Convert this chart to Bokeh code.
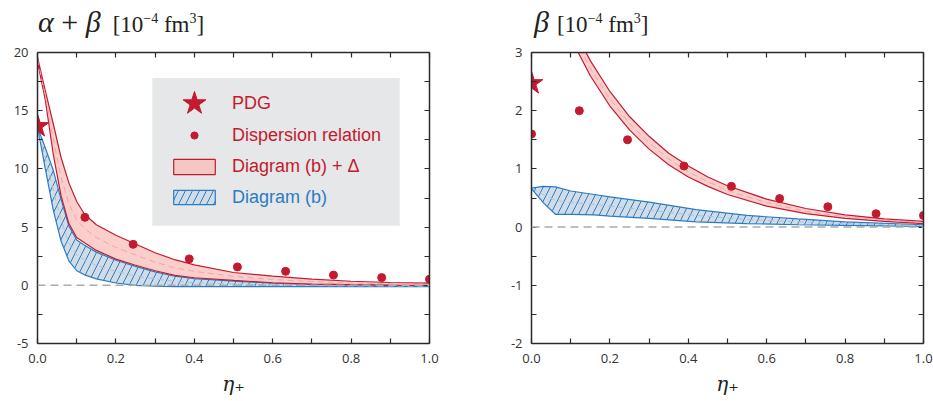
from bokeh.plotting import figure
from bokeh.layouts import row, column
from bokeh.models import (LinearAxis, FixedTicker, Span, Legend, LegendItem, Div,
                          Range1d, NumeralTickFormatter, BoxAnnotation)
from bokeh.embed import file_html
from bokeh.resources import INLINE

# ---------------- data ----------------
x_ticks = [0.0, 0.2, 0.4, 0.6, 0.8, 1.0]
x_minor = [0.1, 0.3, 0.5, 0.7, 0.9]
ab_ticks = [-5, 0, 5, 10, 15, 20]
ab_minor = [-2.5, 2.5, 7.5, 12.5, 17.5]
b_ticks = [-2, -1, 0, 1, 2, 3]
b_minor = [-1.5, -0.5, 0.5, 1.5, 2.5]

pdg_x = [0.0]
ab_pdg = [13.66]
b_pdg = [2.47]

ab_disp_x = [0.121, 0.244, 0.387, 0.51, 0.633, 0.755, 0.878, 1.0]
ab_disp = [5.84, 3.52, 2.27, 1.58, 1.2, 0.88, 0.66, 0.52]
b_disp_x = [0.0, 0.122, 0.245, 0.389, 0.51, 0.633, 0.756, 0.879, 1.0]
b_disp = [1.60, 2.0, 1.50, 1.05, 0.70, 0.49, 0.35, 0.23, 0.20]

# alpha+beta: Diagram (b) + Delta (red band)
ab_x = [0.0, 0.02, 0.04, 0.06, 0.08, 0.1, 0.12, 0.15, 0.2, 0.25, 0.3, 0.35, 0.4, 0.5, 0.6, 0.7, 0.8, 0.9, 1.0]
ab_red_hi = [19.6, 16.7, 13.9, 11.0, 8.8, 7.2, 6.1, 5.2, 4.3, 3.55, 2.8, 2.2, 1.75, 1.1, 0.78, 0.53, 0.35, 0.24, 0.18]
ab_red_mid = [19.4, 16.3, 12.6, 9.3, 7.0, 5.6, 4.9, 4.1, 3.25, 2.6, 2.0, 1.5, 1.2, 0.76, 0.5, 0.32, 0.2, 0.13, 0.09]
ab_red_lo = [19.2, 15.9, 11.3, 7.7, 5.3, 4.1, 3.65, 3.0, 2.25, 1.72, 1.25, 0.85, 0.65, 0.42, 0.22, 0.1, 0.05, 0.02, 0.0]
# alpha+beta: Diagram (b) (blue band)
ab_blue_hi = [13.6, 11.8, 9.9, 7.4, 5.1, 3.9, 3.45, 2.85, 2.15, 1.62, 1.15, 0.78, 0.58, 0.36, 0.18, 0.08, 0.03, 0.0, -0.02]
ab_blue_mid = [13.6, 10.9, 8.2, 5.6, 3.6, 2.6, 2.2, 1.7, 1.2, 0.8, 0.55, 0.33, 0.23, 0.12, 0.03, -0.02, -0.05, -0.06, -0.07]
ab_blue_lo = [13.6, 10.0, 6.5, 3.8, 2.1, 1.25, 0.9, 0.55, 0.2, 0.0, -0.08, -0.12, -0.12, -0.12, -0.12, -0.12, -0.12, -0.12, -0.12]

# beta: Diagram (b) + Delta (red band)
b_red_x = [0.10, 0.15, 0.2, 0.25, 0.3, 0.35, 0.4, 0.45, 0.5, 0.6, 0.7, 0.8, 0.9, 1.0]
b_red_hi = [3.5, 2.86, 2.33, 1.9, 1.56, 1.27, 1.05, 0.86, 0.71, 0.48, 0.32, 0.21, 0.14, 0.10]
b_red_mid = [3.37, 2.73, 2.2, 1.78, 1.45, 1.17, 0.95, 0.78, 0.63, 0.42, 0.27, 0.18, 0.12, 0.08]
b_red_lo = [3.25, 2.6, 2.08, 1.67, 1.34, 1.07, 0.86, 0.70, 0.56, 0.36, 0.23, 0.15, 0.10, 0.06]
# beta: Diagram (b) (blue band)
b_blue_x = [0.0, 0.03, 0.061, 0.1, 0.16, 0.2, 0.3, 0.42, 0.55, 0.68, 0.8, 1.0]
b_blue_hi = [0.67, 0.70, 0.69, 0.62, 0.56, 0.52, 0.43, 0.30, 0.20, 0.14, 0.09, 0.04]
b_blue_mid = [0.665, 0.56, 0.46, 0.42, 0.39, 0.36, 0.29, 0.20, 0.13, 0.09, 0.06, 0.025]
b_blue_lo = [0.66, 0.42, 0.22, 0.22, 0.21, 0.19, 0.15, 0.09, 0.06, 0.04, 0.03, 0.01]

# ---------------- style ----------------
RED = "#c41a2f"
RED_FILL = "#f8b9b3"
RED_DASH = "#eea5ab"
BLUE = "#2a7cc4"
BLUE_FILL = "#d1dce7"
BLUE_DASH = "#a9c3dc"
TXT = "#333333"
AXIS = "#2b2b2b"
TICK_FONT = "Open Sans"


def band_patch(p, xs, hi, lo, color, fill, alpha, hatch=None):
    px = list(xs) + list(xs)[::-1]
    py = list(hi) + list(lo)[::-1]
    kw = dict(fill_color=fill, fill_alpha=alpha, line_color=color, line_width=1.2)
    if hatch:
        kw.update(hatch_pattern="/", hatch_color=color, hatch_scale=14, hatch_weight=1.0)
    return p.patch(px, py, **kw)


def style_axis(ax, ticks, minor, label=True):
    if label:
        ax.ticker = FixedTicker(ticks=ticks, minor_ticks=minor)
        ax.major_label_text_font = TICK_FONT
        ax.major_label_text_font_size = "13px"
        ax.major_label_text_color = TXT
    else:
        ax.ticker = FixedTicker(ticks=[], minor_ticks=sorted(ticks + minor))
    ax.axis_line_color = AXIS
    ax.axis_line_width = 1.5
    ax.major_tick_line_color = AXIS
    ax.minor_tick_line_color = AXIS
    ax.major_tick_line_width = 1.2
    ax.minor_tick_line_width = 1.2
    ax.major_tick_in = 5
    ax.major_tick_out = 0
    ax.minor_tick_in = 5
    ax.minor_tick_out = 0


def make_fig(width, ymin, ymax, yt, ym, bl, br):
    p = figure(width=width, height=356, x_range=Range1d(0, 1), y_range=Range1d(ymin, ymax),
               output_backend="svg", toolbar_location=None,
               min_border_left=bl, min_border_right=br, min_border_top=8, min_border_bottom=57)
    p.xgrid.visible = False
    p.ygrid.visible = False
    p.outline_line_color = None
    p.background_fill_color = "white"
    p.border_fill_color = "white"
    bottom = p.below[0]
    left = p.left[0]
    top = LinearAxis()
    right = LinearAxis()
    p.add_layout(top, "above")
    p.add_layout(right, "right")
    style_axis(bottom, x_ticks, x_minor)
    style_axis(top, x_ticks, x_minor, label=False)
    style_axis(left, yt, ym)
    style_axis(right, yt, ym, label=False)
    bottom.formatter = NumeralTickFormatter(format="0.0")
    left.major_label_overrides = {t: str(t) for t in yt if t < 0}
    bottom.major_label_standoff = 10
    left.major_label_standoff = 9
    bottom.axis_label = "η₊"
    bottom.axis_label_text_font = "DejaVu Serif"
    bottom.axis_label_text_font_style = "italic"
    bottom.axis_label_text_font_size = "20px"
    bottom.axis_label_text_color = "#222222"
    bottom.axis_label_standoff = 6
    p.add_layout(Span(location=0, dimension="width", line_color="#ababab",
                      line_dash="8 5", line_width=1.5))
    return p


def title_div(width, pad, parts):
    html = ('<div style="font-family:\'Liberation Serif\',\'DejaVu Serif\',serif;color:#222;'
            'white-space:nowrap;padding-left:%dpx;padding-top:6px;line-height:32px;">%s</div>'
            % (pad, parts))
    return Div(text=html, width=width, height=44, margin=(0, 0, 0, 0))


def unit_span(gap):
    return ('<span style="font-size:23px;margin-left:%dpx">[10<sup style="font-size:14px;'
            'line-height:0">−4</sup>&nbsp;fm<sup style="font-size:14px;line-height:0">3</sup>]</span>'
            % gap)


# ---------------- left: alpha + beta ----------------
p1 = make_fig(470, -5, 20, ab_ticks, ab_minor, 37, 41)
r_blue1 = band_patch(p1, ab_x, ab_blue_hi, ab_blue_lo, BLUE, BLUE_FILL, 1.0, hatch=True)
p1.line(ab_x, ab_blue_mid, line_color=BLUE_DASH, line_dash="6 4", line_width=1)
r_red1 = band_patch(p1, ab_x, ab_red_hi, ab_red_lo, RED, RED_FILL, 0.7)
p1.line(ab_x, ab_red_mid, line_color=RED_DASH, line_dash="6 4", line_width=1)
r_disp1 = p1.scatter(ab_disp_x, ab_disp, marker="circle", size=8, color=RED)
r_pdg1 = p1.scatter(pdg_x, ab_pdg, marker="star", size=24, color=RED)

p1.add_layout(BoxAnnotation(left=0.293, right=0.924, top=17.8, bottom=5.12,
                            fill_color="#e6e7e8", fill_alpha=1.0, line_color=None))


def one_legend(label, rend, color, vx, vy, gw, gh, standoff):
    return Legend(items=[LegendItem(label=label, renderers=[rend])], location=(vx, vy),
                  glyph_width=gw, glyph_height=gh, label_standoff=standoff, label_height=22,
                  label_text_font="Liberation Sans", label_text_font_size="18px",
                  label_text_color=color, background_fill_alpha=0, border_line_color=None,
                  padding=0, margin=0, spacing=0)


p1.add_layout(one_legend("PDG", r_pdg1, RED, 127, 210, 60, 60, 8))
p1.add_layout(one_legend("Dispersion relation", r_disp1, RED, 136, 197, 42, 18, 17))
p1.add_layout(one_legend("Diagram (b) + Δ", r_red1, RED, 131, 166, 52, 19, 12))
p1.add_layout(one_legend("Diagram (b)", r_blue1, BLUE, 131, 135, 52, 18, 12))

t1 = title_div(470, 38, '<span style="font-size:30px"><i>α</i> + <i>β</i></span>' + unit_span(12))

# ---------------- right: beta ----------------
p2 = make_fig(463, -2, 3, b_ticks, b_minor, 61, 10)
band_patch(p2, b_blue_x, b_blue_hi, b_blue_lo, BLUE, BLUE_FILL, 1.0, hatch=True)
p2.line(b_blue_x, b_blue_mid, line_color=BLUE_DASH, line_dash="6 4", line_width=1)
band_patch(p2, b_red_x, b_red_hi, b_red_lo, RED, RED_FILL, 0.7)
p2.line(b_red_x, b_red_mid, line_color=RED_DASH, line_dash="6 4", line_width=1)
p2.scatter(b_disp_x, b_disp, marker="circle", size=8, color=RED)
p2.scatter(pdg_x, b_pdg, marker="star", size=24, color=RED)

t2 = title_div(463, 64, '<span style="font-size:30px"><i>β</i></span>' + unit_span(8))

layout = column(row(t1, t2), row(p1, p2))
open("out.html", "w").write(file_html(layout, INLINE))
